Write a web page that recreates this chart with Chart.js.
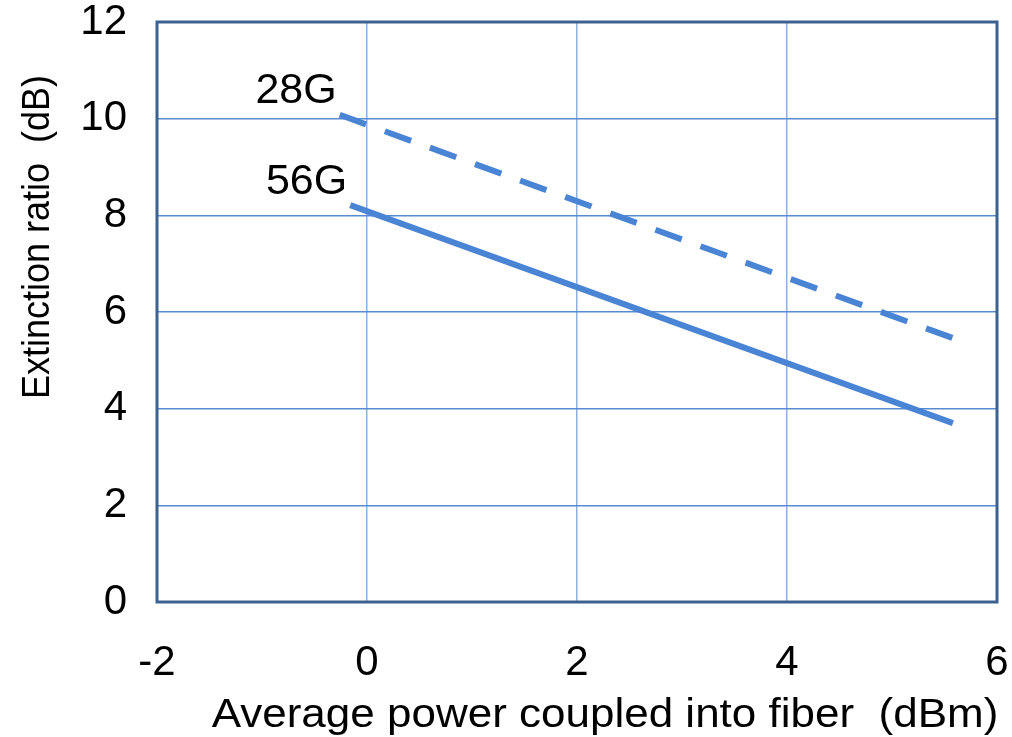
<!DOCTYPE html>
<html>
<head>
<meta charset="utf-8">
<script src="https://cdn.jsdelivr.net/npm/chart.js@4/dist/chart.umd.min.js"></script>
<style>
  html, body { margin: 0; padding: 0; background: #fff; }
  #wrap { width: 1012px; height: 737px; position: relative; }
</style>
</head>
<body>
<div id="wrap"><canvas id="erChart"></canvas></div>
<script>
// values
const power28G = [-0.26, 5.63];
const extinction28G = [10.08, 5.42];
const power56G = [-0.16, 5.58];
const extinction56G = [8.21, 3.70];
const seriesNames = ['28G', '56G'];

const xTitle = 'Average power coupled into fiber  (dBm)';
const yTitle = 'Extinction ratio  (dB)';

const FONT = '"Liberation Sans", Arial, sans-serif';
const LINE_BLUE = '#4a84d4';

function toPoints(xs, ys) {
  return xs.map((x, i) => ({ x: x, y: ys[i] }));
}

// frame, axis titles and the series names next to the lines
const decorations = {
  id: 'decorations',
  afterDatasetsDraw(chart) {
    const { ctx, chartArea: a } = chart;
    ctx.save();
    ctx.strokeStyle = '#3d6290';
    ctx.lineWidth = 3;
    ctx.strokeRect(a.left, a.top, a.right - a.left, a.bottom - a.top);

    ctx.fillStyle = '#000';
    ctx.font = '43px ' + FONT;
    ctx.textAlign = 'right';
    ctx.textBaseline = 'bottom';
    chart.data.datasets.forEach((ds, i) => {
      const pt = chart.getDatasetMeta(i).data[0];
      ctx.fillText(seriesNames[i], pt.x - 3, pt.y - 2);
    });

    // x title, a little wider than the plain font like the reference
    ctx.save();
    ctx.textAlign = 'center';
    ctx.textBaseline = 'alphabetic';
    ctx.font = '40px ' + FONT;
    ctx.translate(605, 727);
    ctx.scale(1.1, 1);
    ctx.fillText(xTitle, 0, 0);
    ctx.restore();

    ctx.translate(38, 237);
    ctx.rotate(-Math.PI / 2);
    ctx.textAlign = 'center';
    ctx.textBaseline = 'middle';
    ctx.font = '36px ' + FONT;
    ctx.scale(1, 1.1);
    ctx.fillText(yTitle, 0, 0);
    ctx.restore();
  }
};

const ctx = document.getElementById('erChart').getContext('2d');
new Chart(ctx, {
  type: 'line',
  data: {
    datasets: [
      {
        label: seriesNames[0],
        data: toPoints(power28G, extinction28G),
        borderColor: LINE_BLUE,
        borderWidth: 6,
        borderDash: [28, 20],
        pointRadius: 0,
        fill: false
      },
      {
        label: seriesNames[1],
        data: toPoints(power56G, extinction56G),
        borderColor: LINE_BLUE,
        borderWidth: 6,
        pointRadius: 0,
        fill: false
      }
    ]
  },
  options: {
    responsive: true,
    maintainAspectRatio: false,
    animation: false,
    layout: { padding: 0 },
    plugins: {
      legend: { display: false },
      tooltip: { enabled: false }
    },
    scales: {
      x: {
        type: 'linear',
        min: -2,
        max: 6,
        afterFit: (scale) => {
          scale.height = 135;
          scale.paddingRight = 15;
          scale.paddingLeft = 0;
        },
        ticks: {
          stepSize: 2,
          padding: 36,
          color: '#000',
          font: { family: FONT, size: 42 }
        },
        grid: { color: '#8fb0dd', lineWidth: 1.5, drawTicks: false },
        border: { display: false }
      },
      y: {
        min: 0,
        max: 12,
        afterFit: (scale) => {
          scale.width = 157;
          scale.paddingTop = 22;
          scale.paddingBottom = 0;
        },
        ticks: {
          stepSize: 2,
          padding: 30,
          color: '#000',
          font: { family: FONT, size: 42 }
        },
        grid: { color: '#5a8ad0', lineWidth: 1.5, drawTicks: false },
        border: { display: false }
      }
    }
  },
  plugins: [decorations]
});
</script>
</body>
</html>
